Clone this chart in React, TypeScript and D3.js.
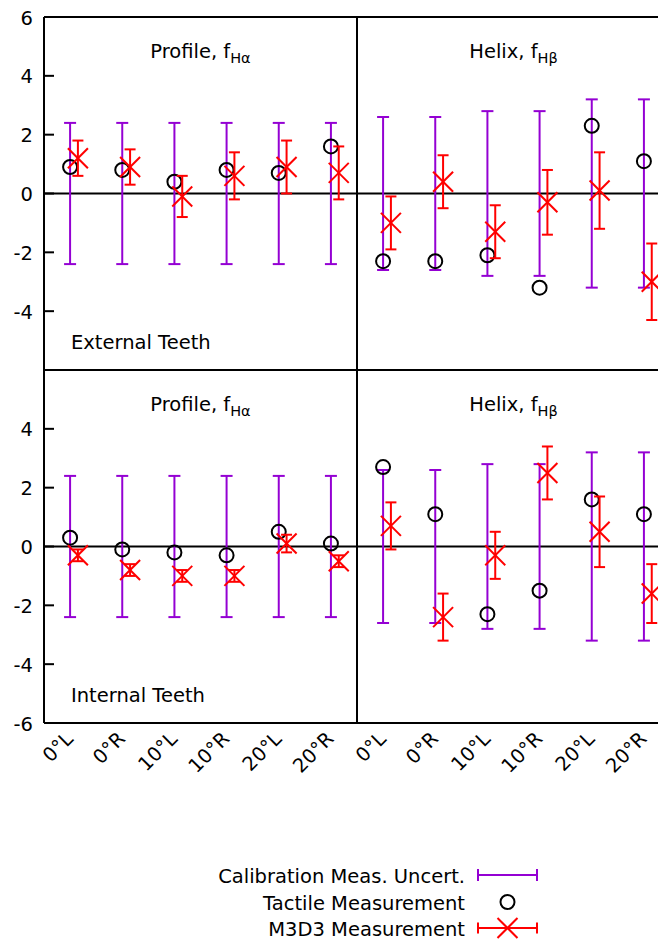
import React from "react";
import * as d3 from "d3";

// Gear deviation comparison: calibration uncertainty, tactile and M3D3 measurements
const categories = ["0°L", "0°R", "10°L", "10°R", "20°L", "20°R"];

// External teeth, profile f_Hα
const extProfileCal = [2.4, 2.4, 2.4, 2.4, 2.4, 2.4];
const extProfileTactile = [0.9, 0.8, 0.4, 0.8, 0.7, 1.6];
const extProfileM3D3 = [1.2, 0.9, -0.1, 0.6, 0.9, 0.7];
const extProfileM3D3Err = [0.6, 0.6, 0.7, 0.8, 0.9, 0.9];

// External teeth, helix f_Hβ
const extHelixCal = [2.6, 2.6, 2.8, 2.8, 3.2, 3.2];
const extHelixTactile = [-2.3, -2.3, -2.1, -3.2, 2.3, 1.1];
const extHelixM3D3 = [-1.0, 0.4, -1.3, -0.3, 0.1, -3.0];
const extHelixM3D3Err = [0.9, 0.9, 0.9, 1.1, 1.3, 1.3];

// Internal teeth, profile f_Hα
const intProfileCal = [2.4, 2.4, 2.4, 2.4, 2.4, 2.4];
const intProfileTactile = [0.3, -0.1, -0.2, -0.3, 0.5, 0.1];
const intProfileM3D3 = [-0.3, -0.8, -1.0, -1.0, 0.1, -0.5];
const intProfileM3D3Err = [0.2, 0.2, 0.2, 0.2, 0.3, 0.2];

// Internal teeth, helix f_Hβ
const intHelixCal = [2.6, 2.6, 2.8, 2.8, 3.2, 3.2];
const intHelixTactile = [2.7, 1.1, -2.3, -1.5, 1.6, 1.1];
const intHelixM3D3 = [0.7, -2.4, -0.3, 2.5, 0.5, -1.6];
const intHelixM3D3Err = [0.8, 0.8, 0.8, 0.9, 1.2, 1.0];

const yTicks = [6, 4, 2, 0, -2, -4, -6];
const topTickLabels = [6, 4, 2, 0, -2, -4];
const bottomTickLabels = [4, 2, 0, -2, -4, -6];

const legendLabels = ["Calibration Meas. Uncert.", "Tactile Measurement", "M3D3 Measurement"];

const PURPLE = "#9400d3";
const RED = "#ff0000";
const FONT = "'DejaVu Sans', Verdana, sans-serif";
const FS = 19.5;

const LEFT = 44;
const PANEL_W = 313;
const TOP = 17;
const PANEL_H = 353;
const M3D3_SHIFT = 0.15;

type PanelProps = {
  x0: number;
  y0: number;
  cal: number[];
  tactile: number[];
  m3d3: number[];
  m3d3Err: number[];
  title: string;
  sub: string;
  label?: string;
  xLabels?: boolean;
};

function Cross({ cx, cy, s }: { cx: number; cy: number; s: number }) {
  return (
    <g stroke={RED} strokeWidth={2}>
      <line x1={cx - s} y1={cy - s} x2={cx + s} y2={cy + s} />
      <line x1={cx - s} y1={cy + s} x2={cx + s} y2={cy - s} />
    </g>
  );
}

function VErr({ x, y1, y2, color, cap }: { x: number; y1: number; y2: number; color: string; cap: number }) {
  return (
    <g stroke={color} strokeWidth={2}>
      <line x1={x} y1={y1} x2={x} y2={y2} />
      <line x1={x - cap} y1={y1} x2={x + cap} y2={y1} />
      <line x1={x - cap} y1={y2} x2={x + cap} y2={y2} />
    </g>
  );
}

function Panel(p: PanelProps) {
  const x = d3.scaleLinear().domain([-0.5, 5.5]).range([p.x0, p.x0 + PANEL_W]);
  const y = d3.scaleLinear().domain([-6, 6]).range([p.y0 + PANEL_H, p.y0]);
  const cx = (p.x0 + p.x0 + PANEL_W) / 2;
  return (
    <g>
      <line x1={p.x0} x2={p.x0 + PANEL_W} y1={y(0)} y2={y(0)} stroke="#000" strokeWidth={2} />
      {categories.map((c, i) => (
        <VErr key={"c" + c} x={x(i)} y1={y(p.cal[i])} y2={y(-p.cal[i])} color={PURPLE} cap={6} />
      ))}
      {categories.map((c, i) => (
        <circle key={"t" + c} cx={x(i)} cy={y(p.tactile[i])} r={7} fill="none" stroke="#000" strokeWidth={2} />
      ))}
      {categories.map((c, i) => (
        <g key={"m" + c}>
          <VErr
            x={x(i + M3D3_SHIFT)}
            y1={y(p.m3d3[i] + p.m3d3Err[i])}
            y2={y(p.m3d3[i] - p.m3d3Err[i])}
            color={RED}
            cap={5.5}
          />
          <Cross cx={x(i + M3D3_SHIFT)} cy={y(p.m3d3[i])} s={10} />
        </g>
      ))}
      <text x={cx} y={p.y0 + 41} textAnchor="middle" fontFamily={FONT} fontSize={FS} fill="#000">
        {p.title}, f
        <tspan fontSize={14.5} dy={5}>{p.sub}</tspan>
      </text>
      {p.label && (
        <text x={LEFT + 27} y={p.y0 + PANEL_H - 21} fontFamily={FONT} fontSize={FS} fill="#000">
          {p.label}
        </text>
      )}
      {p.xLabels &&
        categories.map((c, i) => (
          <text
            key={"x" + c}
            transform={`translate(${x(i) + 4},${p.y0 + PANEL_H + 17}) rotate(-45)`}
            textAnchor="end"
            fontFamily={FONT}
            fontSize={FS}
            fill="#000"
          >
            {c}
          </text>
        ))}
    </g>
  );
}

function YAxis({ y0, labels }: { y0: number; labels: number[] }) {
  const y = d3.scaleLinear().domain([-6, 6]).range([y0 + PANEL_H, y0]);
  return (
    <g>
      {yTicks.map((t) => (
        <line key={"k" + t} x1={LEFT} x2={LEFT + 10} y1={y(t)} y2={y(t)} stroke="#000" strokeWidth={2} />
      ))}
      {labels.map((t) => (
        <text key={"l" + t} x={33} y={y(t) + 7.5} textAnchor="end" fontFamily={FONT} fontSize={FS} fill="#000">
          {t}
        </text>
      ))}
    </g>
  );
}

export default function App() {
  const W = 658;
  const H = 940;
  const right = LEFT + 2 * PANEL_W;
  const lx1 = 478;
  const lx2 = 537;
  const lmid = (lx1 + lx2) / 2;
  const textX = 465;
  const rows = [883, 910, 936];
  return (
    <svg
      width={W}
      height={H}
      style={{ position: "absolute", left: 0, top: 0, display: "block", background: "#fff" }}
    >
      <rect x={0} y={0} width={W} height={H} fill="#fff" />
      <Panel
        x0={LEFT}
        y0={TOP}
        cal={extProfileCal}
        tactile={extProfileTactile}
        m3d3={extProfileM3D3}
        m3d3Err={extProfileM3D3Err}
        title="Profile"
        sub="Hα"
        label="External Teeth"
      />
      <Panel
        x0={LEFT + PANEL_W}
        y0={TOP}
        cal={extHelixCal}
        tactile={extHelixTactile}
        m3d3={extHelixM3D3}
        m3d3Err={extHelixM3D3Err}
        title="Helix"
        sub="Hβ"
      />
      <Panel
        x0={LEFT}
        y0={TOP + PANEL_H}
        cal={intProfileCal}
        tactile={intProfileTactile}
        m3d3={intProfileM3D3}
        m3d3Err={intProfileM3D3Err}
        title="Profile"
        sub="Hα"
        label="Internal Teeth"
        xLabels
      />
      <Panel
        x0={LEFT + PANEL_W}
        y0={TOP + PANEL_H}
        cal={intHelixCal}
        tactile={intHelixTactile}
        m3d3={intHelixM3D3}
        m3d3Err={intHelixM3D3Err}
        title="Helix"
        sub="Hβ"
        xLabels
      />
      <YAxis y0={TOP} labels={topTickLabels} />
      <YAxis y0={TOP + PANEL_H} labels={bottomTickLabels} />
      {/* panel frames */}
      <g stroke="#000" strokeWidth={2} fill="none">
        <line x1={LEFT} x2={right} y1={TOP} y2={TOP} />
        <line x1={LEFT} x2={right} y1={TOP + PANEL_H} y2={TOP + PANEL_H} />
        <line x1={LEFT} x2={right} y1={TOP + 2 * PANEL_H} y2={TOP + 2 * PANEL_H} />
        <line x1={LEFT} x2={LEFT} y1={TOP} y2={TOP + 2 * PANEL_H} />
        <line x1={LEFT + PANEL_W} x2={LEFT + PANEL_W} y1={TOP} y2={TOP + 2 * PANEL_H} />
        <line x1={right} x2={right} y1={TOP} y2={TOP + 2 * PANEL_H} />
      </g>
      {/* legend */}
      <g fontFamily={FONT} fontSize={FS} fill="#000">
        {legendLabels.map((l, i) => (
          <text key={l} x={textX} y={rows[i]} textAnchor="end">
            {l}
          </text>
        ))}
      </g>
      <g stroke={PURPLE} strokeWidth={2}>
        <line x1={lx1} x2={lx2} y1={rows[0] - 8} y2={rows[0] - 8} />
        <line x1={lx1} x2={lx1} y1={rows[0] - 14} y2={rows[0] - 2} />
        <line x1={lx2} x2={lx2} y1={rows[0] - 14} y2={rows[0] - 2} />
      </g>
      <circle cx={lmid} cy={rows[1] - 8} r={7} fill="none" stroke="#000" strokeWidth={2} />
      <g stroke={RED} strokeWidth={2}>
        <line x1={lx1} x2={lx2} y1={rows[2] - 8} y2={rows[2] - 8} />
        <line x1={lx1} x2={lx1} y1={rows[2] - 13.5} y2={rows[2] - 2.5} />
        <line x1={lx2} x2={lx2} y1={rows[2] - 13.5} y2={rows[2] - 2.5} />
      </g>
      <Cross cx={lmid} cy={rows[2] - 8} s={10} />
    </svg>
  );
}
